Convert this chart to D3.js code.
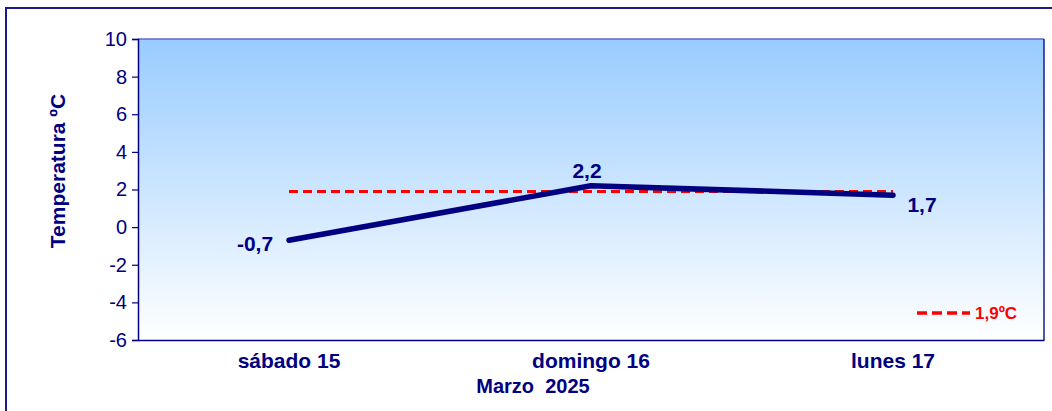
<!DOCTYPE html>
<html><head><meta charset="utf-8">
<script src="https://cdn.jsdelivr.net/npm/d3@7"></script>
<style>body{margin:0;background:#fff}svg{display:block}</style>
</head><body>
<svg id="c" width="1052" height="411"></svg>
<script>
const categories = ["sábado 15", "domingo 16", "lunes 17"];
const temps = [-0.7, 2.2, 1.7];
const labels = ["-0,7", "2,2", "1,7"];
const avgValue = 1.9;
const avgLabel = "1,9ºC";
const yTicks = [-6, -4, -2, 0, 2, 4, 6, 8, 10];
const xTitle = "Marzo  2025";
const yTitle = "Temperatura ºC";

const navy = "#000080";
const FONT = "Liberation Sans, Arial, sans-serif";
const svg = d3.select("#c");
const L = 138, R = 1044, T = 39, B = 340;

const defs = svg.append("defs");
const g = defs.append("linearGradient").attr("id","bg").attr("x1",0).attr("y1",0).attr("x2",0).attr("y2",1);
g.append("stop").attr("offset","0%").attr("stop-color","#99CCFF");
g.append("stop").attr("offset","100%").attr("stop-color","#FFFFFF");

// outer frame
svg.append("rect").attr("x",6).attr("y",8).attr("width",1060).attr("height",420)
  .attr("fill","none").attr("stroke","#1a1a8c").attr("stroke-width",2);

const x = d3.scaleBand().domain(categories).range([L, R]);
const y = d3.scaleLinear().domain([-6, 10]).range([B, T]);

svg.append("rect").attr("x",L).attr("y",T).attr("width",R-L).attr("height",B-T).attr("fill","url(#bg)");
svg.append("line").attr("x1",L).attr("x2",R).attr("y1",T).attr("y2",T).attr("stroke","#6666cc").attr("stroke-width",1.5);
svg.append("line").attr("x1",R).attr("x2",R).attr("y1",T).attr("y2",B).attr("stroke","#1a1a99").attr("stroke-width",1.5);

const ya = svg.append("g").attr("transform",`translate(${L},0)`)
  .call(d3.axisLeft(y).tickValues(yTicks).tickSize(6).tickPadding(5).tickFormat(d => String(d)));
ya.select(".domain").attr("stroke",navy).attr("stroke-width",1.5);
ya.selectAll(".tick line").attr("stroke",navy).attr("stroke-width",1.2);
ya.selectAll("text").attr("fill",navy).style("font-family",FONT).style("font-size","20px");

const xa = svg.append("g").attr("transform",`translate(0,${B})`)
  .call(d3.axisBottom(x).tickSize(0).tickPadding(13));
xa.select(".domain").attr("stroke",navy).attr("stroke-width",1.5);
xa.selectAll("text").attr("fill",navy).style("font-family",FONT)
  .style("font-size","21px").style("font-weight","bold");

const cx = d => x(d) + x.bandwidth()/2;

// average dashed line
svg.append("line").attr("x1",cx(categories[0])).attr("x2",cx(categories[2]))
  .attr("y1",y(avgValue)).attr("y2",y(avgValue))
  .attr("stroke","#FF0000").attr("stroke-width",3).attr("stroke-dasharray","9,5");

// temperature line
const line = d3.line().x((d,i)=>cx(categories[i])).y(d=>y(d));
svg.append("path").datum(temps).attr("d",line).attr("fill","none")
  .attr("stroke",navy).attr("stroke-width",5.5).attr("stroke-linecap","round").attr("stroke-linejoin","round");

// data labels
const lblPos = [{dx:-34, dy:3}, {dx:-4, dy:-15}, {dx:29, dy:9}];
svg.selectAll(".dl").data(temps).enter().append("text")
  .attr("x",(d,i)=>cx(categories[i]) + lblPos[i].dx)
  .attr("y",(d,i)=>y(d) + lblPos[i].dy)
  .attr("text-anchor","middle").attr("dominant-baseline","central")
  .attr("fill",navy).style("font-family",FONT)
  .style("font-size","21px").style("font-weight","bold")
  .text((d,i)=>labels[i]);

// legend
svg.append("line").attr("x1",917).attr("x2",970).attr("y1",313).attr("y2",313)
  .attr("stroke","#FF0000").attr("stroke-width",3.5).attr("stroke-dasharray","10,5");
svg.append("text").attr("x",975).attr("y",313).attr("dominant-baseline","central")
  .attr("fill","#FF0000").style("font-family",FONT)
  .style("font-size","17px").style("font-weight","bold").text(avgLabel);

// axis titles
svg.append("text").attr("x",533).attr("y",386).attr("text-anchor","middle").attr("dominant-baseline","central")
  .attr("fill",navy).style("font-family",FONT)
  .style("font-size","20px").style("font-weight","bold").style("white-space","pre").text(xTitle);
svg.append("text").attr("transform","translate(57,171) rotate(-90)").attr("text-anchor","middle").attr("dominant-baseline","central")
  .attr("fill",navy).style("font-family",FONT)
  .style("font-size","21px").style("font-weight","bold").text(yTitle);
</script>
</body></html>
